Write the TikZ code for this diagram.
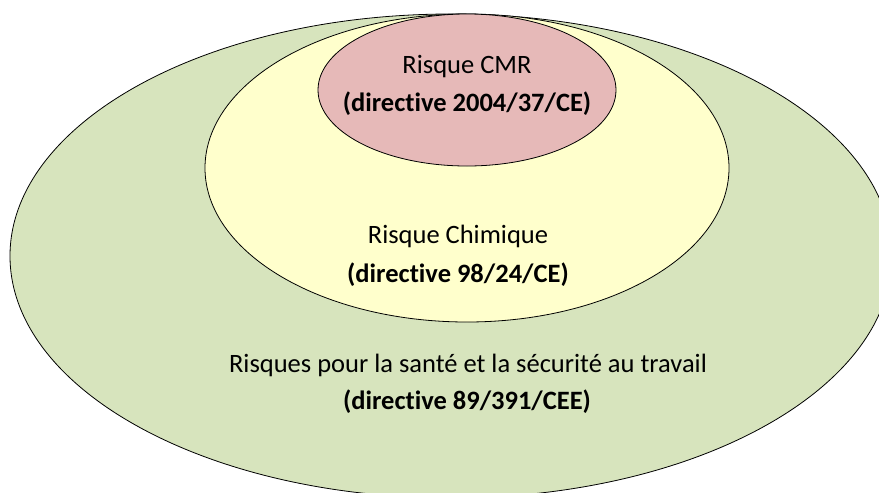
\documentclass[tikz,border=0pt]{standalone}
\usepackage{fontspec}
\setmainfont[Ligatures=NoCommon]{Carlito}
\definecolor{outerg}{HTML}{D7E4BD}
\definecolor{midy}{HTML}{FFFFCC}
\definecolor{innerp}{HTML}{E6B9B8}
\tikzset{
  zone/.style={draw=black, line width=0.8pt},
  lbl/.style={anchor=base, inner sep=0pt, font=\fontsize{26.5}{32}\selectfont},
  lblb/.style={lbl, font=\fontsize{26.5}{32}\selectfont\bfseries}
}
\begin{document}
\begin{tikzpicture}[x=1pt,y=-1pt]
\useasboundingbox (0,0) rectangle (879,493);
\clip (0,0) rectangle (879,493);
\filldraw[zone, fill=outerg] (451,256) ellipse [x radius=441, y radius=242];
\filldraw[zone, fill=midy] (467,168) ellipse [x radius=262, y radius=154];
\filldraw[zone, fill=innerp] (467,90) ellipse [x radius=149, y radius=76];
\node[lbl] (cmr) at (467,73) {Risque CMR};
\node[lblb] (cmrd) at (467,111) {(directive 2004/37/CE)};
\node[lbl] (chim) at (458,243) {Risque Chimique};
\node[lblb] (chimd) at (458,282) {(directive 98/24/CE)};
\node[lbl] (sst) at (468,372) {Risques pour la santé et la sécurité au travail};
\node[lblb] (sstd) at (467,409) {(directive 89/391/CEE)};
\end{tikzpicture}
\end{document}
